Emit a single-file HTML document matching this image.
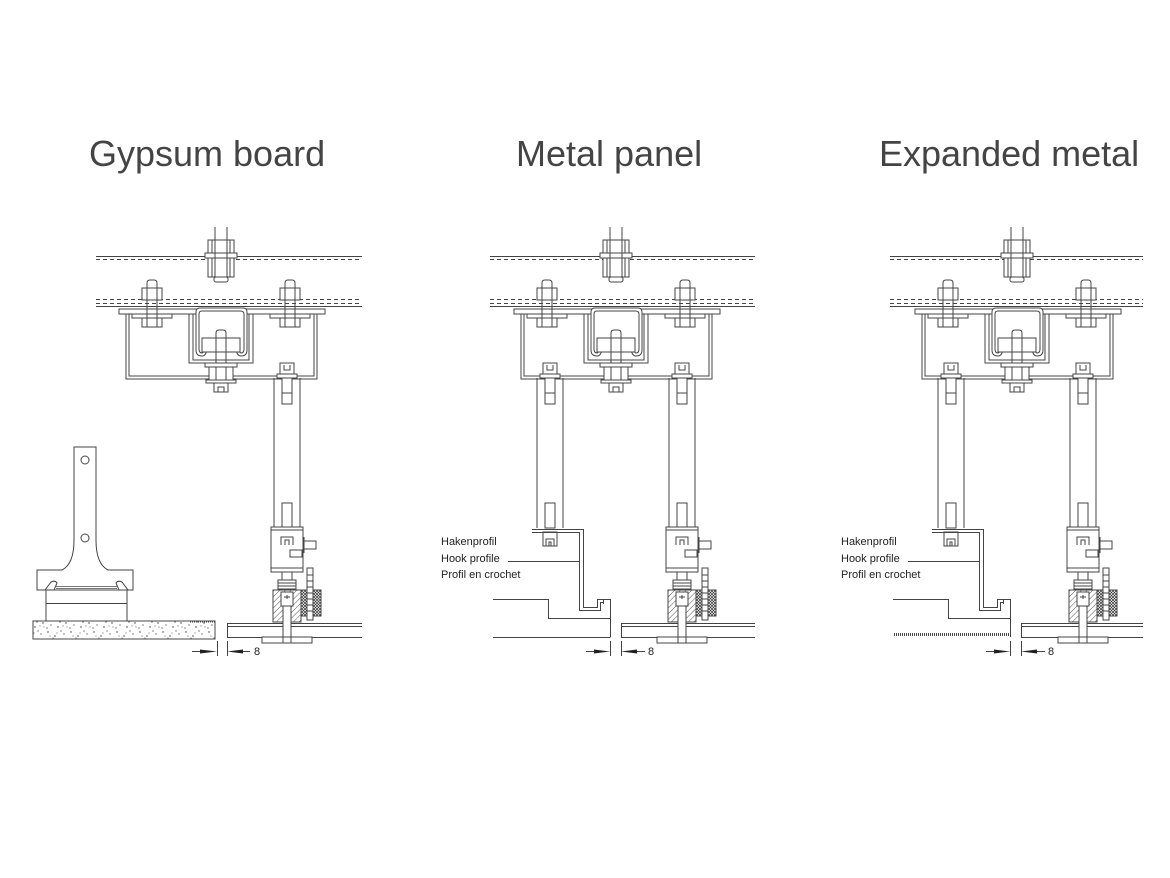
<!DOCTYPE html>
<html><head><meta charset="utf-8"><style>html,body{margin:0;padding:0;background:#fff}svg{display:block}</style></head>
<body>
<svg width="1170" height="878" viewBox="0 0 1170 878" xmlns="http://www.w3.org/2000/svg">
<defs>
<pattern id="diag" width="4" height="4" patternUnits="userSpaceOnUse" patternTransform="rotate(45)"><rect width="4" height="4" fill="#fff"/><line x1="0" y1="0" x2="0" y2="4" stroke="#444" stroke-width="0.9"/></pattern>
<pattern id="cross" width="3" height="3" patternUnits="userSpaceOnUse"><rect width="3" height="3" fill="#fff"/><path d="M0,0L3,3M3,0L0,3" stroke="#333" stroke-width="0.7"/></pattern>
<pattern id="speck" width="23" height="17" patternUnits="userSpaceOnUse"><rect width="23" height="17" fill="#fff"/><g fill="#333"><circle cx="2" cy="3" r="0.7"/><circle cx="9" cy="7" r="0.7"/><circle cx="15" cy="2" r="0.6"/><circle cx="20" cy="11" r="0.7"/><circle cx="5" cy="13" r="0.6"/><circle cx="12" cy="15" r="0.7"/><circle cx="18" cy="5" r="0.6"/><circle cx="7" cy="9" r="0.5"/><circle cx="14" cy="10" r="0.6"/><circle cx="1" cy="16" r="0.6"/><circle cx="21" cy="15" r="0.5"/><circle cx="11" cy="4" r="0.5"/><circle cx="4" cy="7" r="0.5"/><circle cx="17" cy="14" r="0.5"/></g></pattern>
<pattern id="dotline" width="2" height="3" patternUnits="userSpaceOnUse"><rect width="2" height="3" fill="#fff"/><rect x="0" y="0" width="1" height="3" fill="#444"/></pattern>

<g id="topnut" stroke="#444" stroke-width="1" fill="#fff">
<rect x="-13" y="240" width="26" height="13"/>
<rect x="-16" y="253" width="32" height="5"/>
<rect x="-13" y="258" width="26" height="19"/>
<rect x="-7" y="277" width="14" height="5" rx="2"/>
<path d="M-6,227V277M6,227V277M-9,240V253M9,240V253M-9,258V277M9,258V277" fill="none"/>
</g>

<g id="bolt" stroke="#444" stroke-width="1" fill="#fff">
<rect x="-10" y="288" width="20" height="12"/>
<rect x="-20" y="314" width="40" height="4"/>
<rect x="-10" y="318" width="20" height="9"/>
<path d="M-5,327V283Q-5,280-2,280H2Q5,280 5,283V327" fill="none"/>
</g>

<g id="bracket" stroke="#444" stroke-width="1" fill="none">
<rect x="-102" y="309" width="206" height="5" fill="#fff"/>
<path d="M-95,314V379H96V314M-92,314V376H93V314"/>
<path d="M-32,314V363H32V314M-28,314V360H28V314"/>
<path d="M-14,346Q-14,356-19,356Q-25,356-25,350V312Q-25,308-21,308H22Q26,308 26,312V350Q26,356 20,356Q15,356 15,346" fill="#fff"/>
<path d="M-17,346Q-17,353-19,353Q-22,353-22,349V314Q-22,311-19,311H19Q23,311 23,314V349Q23,353 20,353Q18,353 18,346"/>
<rect x="-19" y="338" width="38" height="14" fill="#fff"/>
<path d="M-5,372V333Q-5,330-2,330H2Q5,330 5,333V372"/>
<rect x="-16" y="363" width="32" height="4" fill="#fff"/>
<rect x="-12" y="367" width="24" height="13" fill="#fff"/>
<path d="M-5,367V380M5,367V380"/>
<rect x="-15" y="380" width="30" height="3" fill="#fff"/>
<rect x="-7" y="383" width="14" height="9" fill="#fff"/>
<path d="M-3,392V387H3V392"/>
</g>

<g id="hang" stroke="#444" stroke-width="1" fill="#fff">
<path d="M-13,378V528M13,378V528" fill="none"/>
<rect x="-7" y="363" width="14" height="11"/>
<path d="M-3,365V370H3V365" fill="none"/>
<rect x="-10" y="374" width="20" height="4"/>
<rect x="-5" y="378" width="10" height="26"/>
<path d="M-5,393H5" fill="none"/>
<rect x="-5" y="503" width="10" height="25"/>
</g>

<g id="clip" stroke="#444" stroke-width="1" fill="#fff">
<rect x="-16" y="527" width="32" height="45"/>
<path d="M-16,530H16M-16,568H16" fill="none"/>
<path d="M-6,545V537H6V545M-2,545V540H2V545" fill="none"/>
<rect x="17" y="541" width="12" height="8"/>
<path d="M17,537V553M29,543V547" fill="none"/>
<rect x="3" y="550" width="12" height="7"/>
<rect x="-5" y="572" width="10" height="8"/>
<rect x="-9" y="580" width="18" height="12"/>
<path d="M-9,583H9M-9,586H9M-9,589H9" fill="none"/>
<rect x="-14" y="590" width="28" height="32" fill="url(#diag)"/>
<rect x="14" y="590" width="20" height="26" fill="url(#cross)"/>
<rect x="-6" y="592" width="12" height="14"/>
<path d="M-3,597H3M0,595V599" fill="none"/>
<rect x="20" y="568" width="6" height="52"/>
<path d="M20,575H26M20,581H26M20,587H26M20,593H26M20,599H26M20,605H26M20,611H26" fill="none"/>
<rect x="-4" y="606" width="8" height="37"/>
<rect x="-25" y="637" width="50" height="6"/>
<path d="M-4,637V643M4,637V643" fill="none"/>
</g>
</defs>

<!-- Titles -->
<g font-family="'Liberation Sans', sans-serif" font-size="36" fill="#444">
<text x="89" y="166">Gypsum board</text>
<text x="516" y="166">Metal panel</text>
<text x="879" y="166">Expanded metal</text>
</g>

<!-- Ceiling lines -->
<g stroke="#444" stroke-width="1" fill="none">
<path d="M96,256.5H362M490,256.5H755M890,256.5H1143"/>
<path d="M96,259.5H362M490,259.5H755M890,259.5H1143" stroke-dasharray="4 3"/>
<path d="M96,299.5H362M490,299.5H755M890,299.5H1143" stroke-dasharray="4 3"/>
<path d="M96,303.5H362M490,303.5H755M890,303.5H1143" stroke-dasharray="4 3"/>
<path d="M96,306.5H362M490,306.5H755M890,306.5H1143"/>
</g>

<!-- Top assemblies -->
<use href="#bracket" transform="translate(221,0)"/>
<use href="#topnut" transform="translate(221,0)"/>
<use href="#bolt" transform="translate(152,0)"/>
<use href="#bolt" transform="translate(290,0)"/>

<use href="#bracket" transform="translate(616,0)"/>
<use href="#topnut" transform="translate(616,0)"/>
<use href="#bolt" transform="translate(547,0)"/>
<use href="#bolt" transform="translate(685,0)"/>

<use href="#bracket" transform="translate(1017,0)"/>
<use href="#topnut" transform="translate(1017,0)"/>
<use href="#bolt" transform="translate(948,0)"/>
<use href="#bolt" transform="translate(1086,0)"/>

<!-- Boards (right) -->
<g stroke="#444" stroke-width="1" fill="none">
<path d="M227,623.5H362M227,626.5H362M227,637.5H362M227.5,623V638"/>
<path d="M621,623.5H755M621,626.5H755M621,637.5H755M621.5,623V638"/>
<path d="M1021,623.5H1143M1021,626.5H1143M1021,637.5H1143M1021.5,623V638"/>
</g>

<!-- Hangers -->
<use href="#hang" transform="translate(287,0)"/>
<use href="#clip" transform="translate(287,0)"/>
<use href="#hang" transform="translate(682,0)"/>
<use href="#clip" transform="translate(682,0)"/>
<use href="#hang" transform="translate(550,0)"/>
<use href="#hang" transform="translate(1083,0)"/>
<use href="#clip" transform="translate(1083,0)"/>
<use href="#hang" transform="translate(951,0)"/>

<!-- Left panel: tool & gypsum board -->
<g stroke="#444" stroke-width="1" fill="#fff">
<rect x="33" y="621" width="182" height="18" fill="url(#speck)"/>
<path d="M190,621.5H215" stroke-dasharray="1 1" stroke-width="2"/>
<rect x="46" y="590" width="81" height="31"/>
<path d="M46,603.5H127" fill="none"/>
<path d="M74,447H96V540C96,556 100,566 108,570H133V590H128L122,582Q118,580 116,583L119,590 H54 L57,583Q55,580 51,582L45,590H37V570H62C70,566 74,556 74,540Z"/>
<path d="M56,586.5H117M56,588.5H117" fill="none" stroke="#777"/>
<circle cx="85" cy="460" r="4"/>
<circle cx="85" cy="538" r="4"/>
</g>

<!-- Middle panel: hook profile and panel -->
<g stroke="#444" stroke-width="1" fill="none">
<rect x="543" y="532" width="14" height="14" fill="#fff"/>
<path d="M546,546V539H554V546M549,546V542H551V546"/>
<path d="M532,529.5H583.5V607.5H597.5V599.5H603.5V604"/>
<path d="M532,532.5H579.5V610.5H600.5V602.5H603"/>
<path d="M493,599.5H548.5V618.5H610.5M597,599.5H610.5V637M493,637.5H610.5"/>
<path d="M508,561.5H580"/>
</g>

<!-- Right panel: hook profile and expanded metal -->
<g stroke="#444" stroke-width="1" fill="none">
<rect x="944" y="532" width="14" height="14" fill="#fff"/>
<path d="M947,546V539H955V546M950,546V542H952V546"/>
<path d="M932,529.5H983.5V607.5H997.5V599.5H1003.5V604"/>
<path d="M932,532.5H979.5V610.5H1000.5V602.5H1003"/>
<path d="M893,599.5H948.5V618.5H1010.5M997,599.5H1010.5V637"/>
<path d="M908,561.5H980"/>
<rect x="893" y="633" width="117" height="3" fill="url(#dotline)" stroke="none"/>
</g>

<!-- Labels -->
<g font-family="'Liberation Sans', sans-serif" font-size="11" fill="#222">
<text x="441" y="545">Hakenprofil</text>
<text x="441" y="562">Hook profile</text>
<text x="441" y="578">Profil en crochet</text>
<text x="841" y="545">Hakenprofil</text>
<text x="841" y="562">Hook profile</text>
<text x="841" y="578">Profil en crochet</text>
</g>

<!-- Dimensions -->
<g stroke="#444" stroke-width="1" fill="none">
<path d="M217.5,641V656M227.5,641V656M192,651.5H200M242,651.5H250"/>
<path d="M610.5,641V656M621.5,641V656M586,651.5H594M637,651.5H645"/>
<path d="M1010.5,641V656M1021.5,641V656M986,651.5H994M1037,651.5H1045"/>
</g>
<g fill="#222">
<polygon points="200,649.5 217,651.5 200,653.5"/>
<polygon points="227,651.5 243,649.5 243,653.5"/>
<polygon points="594,649.5 610,651.5 594,653.5"/>
<polygon points="621,651.5 637,649.5 637,653.5"/>
<polygon points="994,649.5 1010,651.5 994,653.5"/>
<polygon points="1021,651.5 1037,649.5 1037,653.5"/>
</g>
<g font-family="'Liberation Sans', sans-serif" font-size="11" fill="#222">
<text x="254" y="655">8</text>
<text x="648" y="655">8</text>
<text x="1048" y="655">8</text>
</g>
</svg>
</body></html>
